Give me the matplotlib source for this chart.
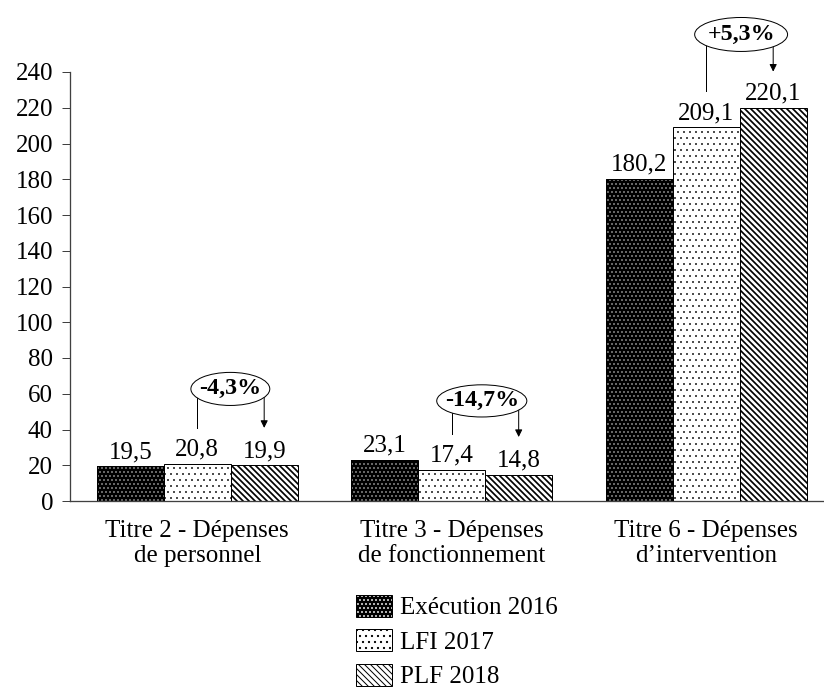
import matplotlib
matplotlib.use("Agg")
import matplotlib.pyplot as plt
from matplotlib.patches import Ellipse, Patch
import numpy as np

categories = ["Titre 2 - Dépenses\nde personnel",
              "Titre 3 - Dépenses\nde fonctionnement",
              "Titre 6 - Dépenses\nd’intervention"]
series_names = ["Exécution 2016", "LFI 2017", "PLF 2018"]
exec_2016 = [19.5, 23.1, 180.2]
lfi_2017 = [20.8, 17.4, 209.1]
plf_2018 = [19.9, 14.8, 220.1]
changes = ["-4,3%", "-14,7%", "+5,3%"]
yticks = list(range(0, 241, 20))

# annotation layout (ellipse centre y, left line end y, arrow tip y, ellipse dx, width, height)
ann_layout = [
    (62.7, 40.9, 40.9, 0.13, 0.31, 18.5),
    (56.0, 37.5, 35.8, 0.118, 0.354, 18.0),
    (261.0, 229.6, 240.2, 0.137, 0.365, 19.0),
]

plt.rcParams['font.family'] = ['Liberation Serif', 'DejaVu Serif']
FS = 25

DPI = 72
fig = plt.figure(figsize=(824 / DPI, 687 / DPI), dpi=DPI)
ax = fig.add_axes([70 / 824, 186 / 687, 754 / 824, 429 / 687])

x = np.arange(len(categories))
w = 0.263
styles = [
    dict(face="black", hatch_color="white", hatch="...", hlw=0.5),
    dict(face="white", hatch_color="black", hatch="..", hlw=0.6),
    dict(face="white", hatch_color="black", hatch="\\\\\\\\", hlw=1.7),
]
series = [exec_2016, lfi_2017, plf_2018]
handles = []
for i, (vals, st) in enumerate(zip(series, styles)):
    pos = x + (i - 1) * w
    with plt.rc_context({'hatch.linewidth': st["hlw"]}):
        ax.bar(pos, vals, width=w, color=st["face"], edgecolor=st["hatch_color"],
               hatch=st["hatch"], linewidth=0, zorder=2)
        hp = Patch(facecolor=st["face"], edgecolor=st["hatch_color"],
                   hatch=st["hatch"], linewidth=0)
    ax.bar(pos, vals, width=w, fill=False, edgecolor="black", linewidth=1.0, zorder=3)
    for xp, v in zip(pos, vals):
        ax.annotate(f"{v:.1f}".replace(".", ","), (xp, v), xytext=(0, 3),
                    textcoords="offset points", ha="center", va="bottom", fontsize=FS)
    op = Patch(fill=False, edgecolor="black", linewidth=1.0)
    handles.append((hp, op))

# change annotations
for g, (lab, (yc, yl, ya, dx, ew, eh)) in enumerate(zip(changes, ann_layout)):
    x2 = x[g]
    x3 = x[g] + w
    ax.plot([x2, x2, x3], [yl, yc, yc], color="black", lw=1.0, clip_on=False, zorder=4)
    ax.annotate("", xy=(x3, ya), xytext=(x3, yc),
                arrowprops=dict(arrowstyle="-|>,head_length=0.6,head_width=0.3",
                                color="black", lw=1.0, shrinkA=0, shrinkB=0),
                annotation_clip=False, zorder=4)
    e = Ellipse((x[g] + dx, yc), ew, eh, facecolor="white", edgecolor="black",
                lw=1.0, clip_on=False, zorder=5)
    ax.add_patch(e)
    ax.text(x[g] + dx, yc, lab, ha="center", va="center", fontsize=24,
            fontweight="bold", zorder=6)

ax.set_ylim(0, 240)
ax.set_xlim(-0.5, -0.5 + 754 / 254.5)
ax.set_yticks(yticks)
ax.set_yticklabels([str(t) for t in yticks], fontsize=FS)
ax.set_xticks(x)
ax.set_xticklabels(categories, fontsize=FS, linespacing=1.2)
ax.tick_params(axis="x", length=0, pad=19)
ax.tick_params(axis="y", length=8, width=1, color="#404040", pad=9, direction="out")
for s in ["top", "right"]:
    ax.spines[s].set_visible(False)
for s in ["left", "bottom"]:
    ax.spines[s].set_color("#404040")
    ax.spines[s].set_linewidth(1.3)

fig.legend(handles, series_names, loc="upper left",
           bbox_to_anchor=(356 / 824, 1 - 595 / 687), frameon=False,
           fontsize=FS, handlelength=1.44, handleheight=0.96, handletextpad=0.3,
           labelspacing=0.4, borderpad=0, borderaxespad=0)

fig.savefig("out.png", dpi=DPI)
